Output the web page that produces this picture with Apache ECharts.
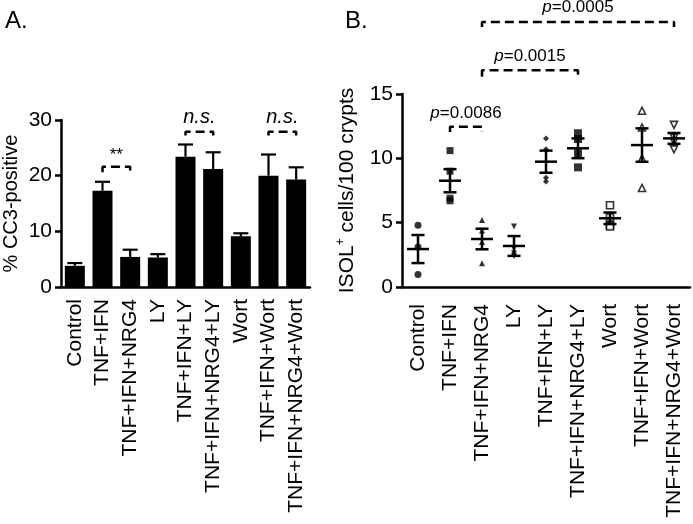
<!DOCTYPE html>
<html>
<head>
<meta charset="utf-8">
<script src="https://cdn.jsdelivr.net/npm/echarts@6/dist/echarts.min.js"></script>
<style>
  html, body { margin: 0; padding: 0; background: #fff; }
  #chart { width: 693px; height: 524px; }
</style>
</head>
<body>
<div id="chart"></div>
<script>
// categories shared by both panels
const groups = ['Control', 'TNF+IFN', 'TNF+IFN+NRG4', 'LY', 'TNF+IFN+LY',
  'TNF+IFN+NRG4+LY', 'Wort', 'TNF+IFN+Wort', 'TNF+IFN+NRG4+Wort']

// panel A: % CC3-positive (mean, upper error)
const cc3Mean = [3.8, 17.3, 5.4, 5.3, 23.4, 21.2, 9.1, 20.0, 19.3]
const cc3Err = [0.5, 1.6, 1.3, 0.6, 2.2, 3.0, 0.55, 3.8, 2.2]
const ticksA = [0, 10, 20, 30]

// panel B: ISOL+ cells / 100 crypts, single points per group
const isolPoints = [
  [4.8, 0.98, 3.1],
  [10.6, 9.0, 6.9, 6.7],
  [5.2, 4.4, 3.5, 1.85],
  [4.7, 3.0, 2.6, 2.4],
  [11.55, 10.7, 8.5, 8.2],
  [11.95, 11.5, 10.4, 9.3],
  [6.35, 5.4, 4.8, 4.7],
  [13.7, 12.4, 10.0, 7.7],
  [12.6, 11.6, 11.3, 10.7]
]
const isolMean = [2.95, 8.26, 3.73, 3.19, 9.74, 10.78, 5.34, 11.03, 11.55]
const isolSem = [1.09, 0.9, 0.8, 0.77, 0.86, 0.77, 0.45, 1.3, 0.42]
const ticksB = [0, 5, 10, 15]

// significance brackets: [from, to, bracket y, end y, text y, text]
const bracketsA = [
  [1, 2, 21.6, 20.6, 23.6, '**'],
  [4, 5, 27.9, 27.2, 30.5, 'n.s.'],
  [7, 8, 27.9, 27.2, 30.5, 'n.s.']
]
const bracketsB = [
  [1, 2, 12.45, 12.05, 13.5, '0.0086'],
  [2, 5, 16.85, 16.35, 17.9, '0.0015'],
  [2, 8, 20.6, 20.2, 21.75, '0.0005']
]

const FONT = 'Liberation Sans, Arial, Helvetica, sans-serif'

// marker look for each group in panel B
const markers = [
  { symbol: 'circle', rot: 0, open: false, size: 7 },
  { symbol: 'rect', rot: 0, open: false, size: 7 },
  { symbol: 'triangle', rot: 0, open: false, size: 6 },
  { symbol: 'triangle', rot: 180, open: false, size: 6 },
  { symbol: 'diamond', rot: 0, open: false, size: 6 },
  { symbol: 'rect', rot: 0, open: false, size: 8 },
  { symbol: 'rect', rot: 0, open: true, size: 7 },
  { symbol: 'triangle', rot: 0, open: true, size: 7 },
  { symbol: 'triangle', rot: 180, open: true, size: 7 }
]

const chart = echarts.init(document.getElementById('chart'))

const axisLineStyle = { color: '#000', width: 2.5 }

const xAxisBase = (gridIndex, margin) => ({
  type: 'category',
  gridIndex,
  data: groups,
  axisLine: { lineStyle: axisLineStyle },
  axisTick: { show: false },
  axisLabel: { rotate: 90, margin, color: '#000', fontSize: 21, fontFamily: FONT, interval: 0 }
})

const yAxisBase = (gridIndex, max, interval, name, nameGap) => ({
  type: 'value',
  gridIndex,
  min: 0,
  max,
  interval,
  splitLine: { show: false },
  axisLine: { show: true, lineStyle: axisLineStyle },
  axisTick: { show: true, length: 6, lineStyle: { color: '#000', width: 2.5 } },
  axisLabel: { margin: 9, color: '#000', fontSize: 21, fontFamily: FONT },
  name,
  nameLocation: 'middle',
  nameGap,
  nameTextStyle: {
    color: '#000', fontSize: 20, fontFamily: FONT,
    rich: {
      n: { fontSize: 21, fontFamily: FONT, color: '#000', lineHeight: 24 },
      s: { fontSize: 12, fontFamily: FONT, color: '#000', lineHeight: 12, verticalAlign: 'top' }
    }
  }
})

const bracketSeries = (list, xi) => list.map(b => ({
  type: 'line',
  xAxisIndex: xi,
  yAxisIndex: xi,
  clip: false,
  symbol: 'none',
  silent: true,
  lineStyle: { color: '#000', width: 2.5, type: [9, 5] },
  data: [[b[0], b[3]], [b[0], b[2]], [b[1], b[2]], [b[1], b[3]]]
}))

const scatterData = []
isolPoints.forEach((pts, i) => {
  const m = markers[i]
  pts.forEach(v => {
    scatterData.push({
      value: [i, v],
      symbol: m.symbol,
      symbolRotate: m.rot,
      symbolSize: m.size,
      itemStyle: m.open
        ? { color: '#fff', borderColor: '#000', borderWidth: 1.6 }
        : { color: '#000' }
    })
  })
})

const option = {
  backgroundColor: '#fff',
  animation: false,
  title: [
    { text: 'A.', left: 0, top: 4, textStyle: { fontSize: 24, fontWeight: 'normal', color: '#000', fontFamily: FONT } },
    { text: 'B.', left: 340, top: 4, textStyle: { fontSize: 24, fontWeight: 'normal', color: '#000', fontFamily: FONT } }
  ],
  grid: [
    { left: 58, top: 120, width: 252, height: 167 },
    { left: 402, top: 94, width: 288, height: 193 }
  ],
  xAxis: [xAxisBase(0, 12), xAxisBase(1, 17)],
  yAxis: [
    yAxisBase(0, ticksA[ticksA.length - 1], ticksA[1] - ticksA[0], '% CC3-positive', 40),
    yAxisBase(1, ticksB[ticksB.length - 1], ticksB[1] - ticksB[0], '{n|ISOL}{s|+}{n| cells/100 crypts}', 43)
  ],
  series: [
    {
      type: 'bar',
      xAxisIndex: 0,
      yAxisIndex: 0,
      barWidth: 20,
      itemStyle: { color: '#000' },
      data: cc3Mean
    },
    {
      type: 'custom',
      xAxisIndex: 0,
      yAxisIndex: 0,
      data: cc3Mean.map((m, i) => [i, m, cc3Err[i]]),
      renderItem: (params, api) => {
        const base = api.coord([api.value(0), api.value(1)])
        const top = api.coord([api.value(0), api.value(1) + api.value(2)])
        const st = { stroke: '#000', lineWidth: 2.2 }
        return {
          type: 'group',
          children: [
            { type: 'line', shape: { x1: base[0], y1: base[1], x2: top[0], y2: top[1] }, style: st },
            { type: 'line', shape: { x1: top[0] - 7.5, y1: top[1], x2: top[0] + 7.5, y2: top[1] }, style: st }
          ]
        }
      }
    },
    ...bracketSeries(bracketsA, 0),
    {
      type: 'scatter',
      xAxisIndex: 1,
      yAxisIndex: 1,
      data: scatterData
    },
    {
      type: 'custom',
      xAxisIndex: 1,
      yAxisIndex: 1,
      z: 5,
      data: isolMean.map((m, i) => [i, m, isolSem[i]]),
      renderItem: (params, api) => {
        const x = api.value(0), m = api.value(1), s = api.value(2)
        const c = api.coord([x, m])
        const hi = api.coord([x, m + s])
        const lo = api.coord([x, m - s])
        const st = { stroke: '#000', lineWidth: 2.5 }
        return {
          type: 'group',
          children: [
            { type: 'line', shape: { x1: c[0] - 11, y1: c[1], x2: c[0] + 11, y2: c[1] }, style: st },
            { type: 'line', shape: { x1: hi[0], y1: hi[1], x2: lo[0], y2: lo[1] }, style: st },
            { type: 'line', shape: { x1: hi[0] - 6.5, y1: hi[1], x2: hi[0] + 6.5, y2: hi[1] }, style: st },
            { type: 'line', shape: { x1: lo[0] - 6.5, y1: lo[1], x2: lo[0] + 6.5, y2: lo[1] }, style: st }
          ]
        }
      }
    },
    ...bracketSeries(bracketsB, 1)
  ]
}

chart.setOption(option)

// annotation texts placed through the axes
const texts = []
bracketsA.forEach(b => {
  const p1 = chart.convertToPixel({ xAxisIndex: 0, yAxisIndex: 0 }, [b[0], b[4]])
  const p2 = chart.convertToPixel({ xAxisIndex: 0, yAxisIndex: 0 }, [b[1], b[4]])
  const ns = b[5] !== '**'
  texts.push({
    type: 'text',
    x: (p1[0] + p2[0]) / 2,
    y: p1[1],
    style: {
      text: b[5],
      fill: '#000',
      font: (ns ? 'italic 20px ' : '17px ') + FONT,
      textAlign: 'center',
      textVerticalAlign: 'middle'
    }
  })
})
bracketsB.forEach(b => {
  const p1 = chart.convertToPixel({ xAxisIndex: 1, yAxisIndex: 1 }, [b[0], b[4]])
  const p2 = chart.convertToPixel({ xAxisIndex: 1, yAxisIndex: 1 }, [b[1], b[4]])
  texts.push({
    type: 'text',
    x: (p1[0] + p2[0]) / 2,
    y: p1[1],
    style: {
      text: '{i|p}{n|=' + b[5] + '}',
      align: 'center',
      verticalAlign: 'middle',
      rich: {
        i: { fontSize: 17, fontStyle: 'italic', fontFamily: FONT, fill: '#000' },
        n: { fontSize: 17, fontFamily: FONT, fill: '#000' }
      }
    }
  })
})
chart.setOption({ graphic: texts })
</script>
</body>
</html>
